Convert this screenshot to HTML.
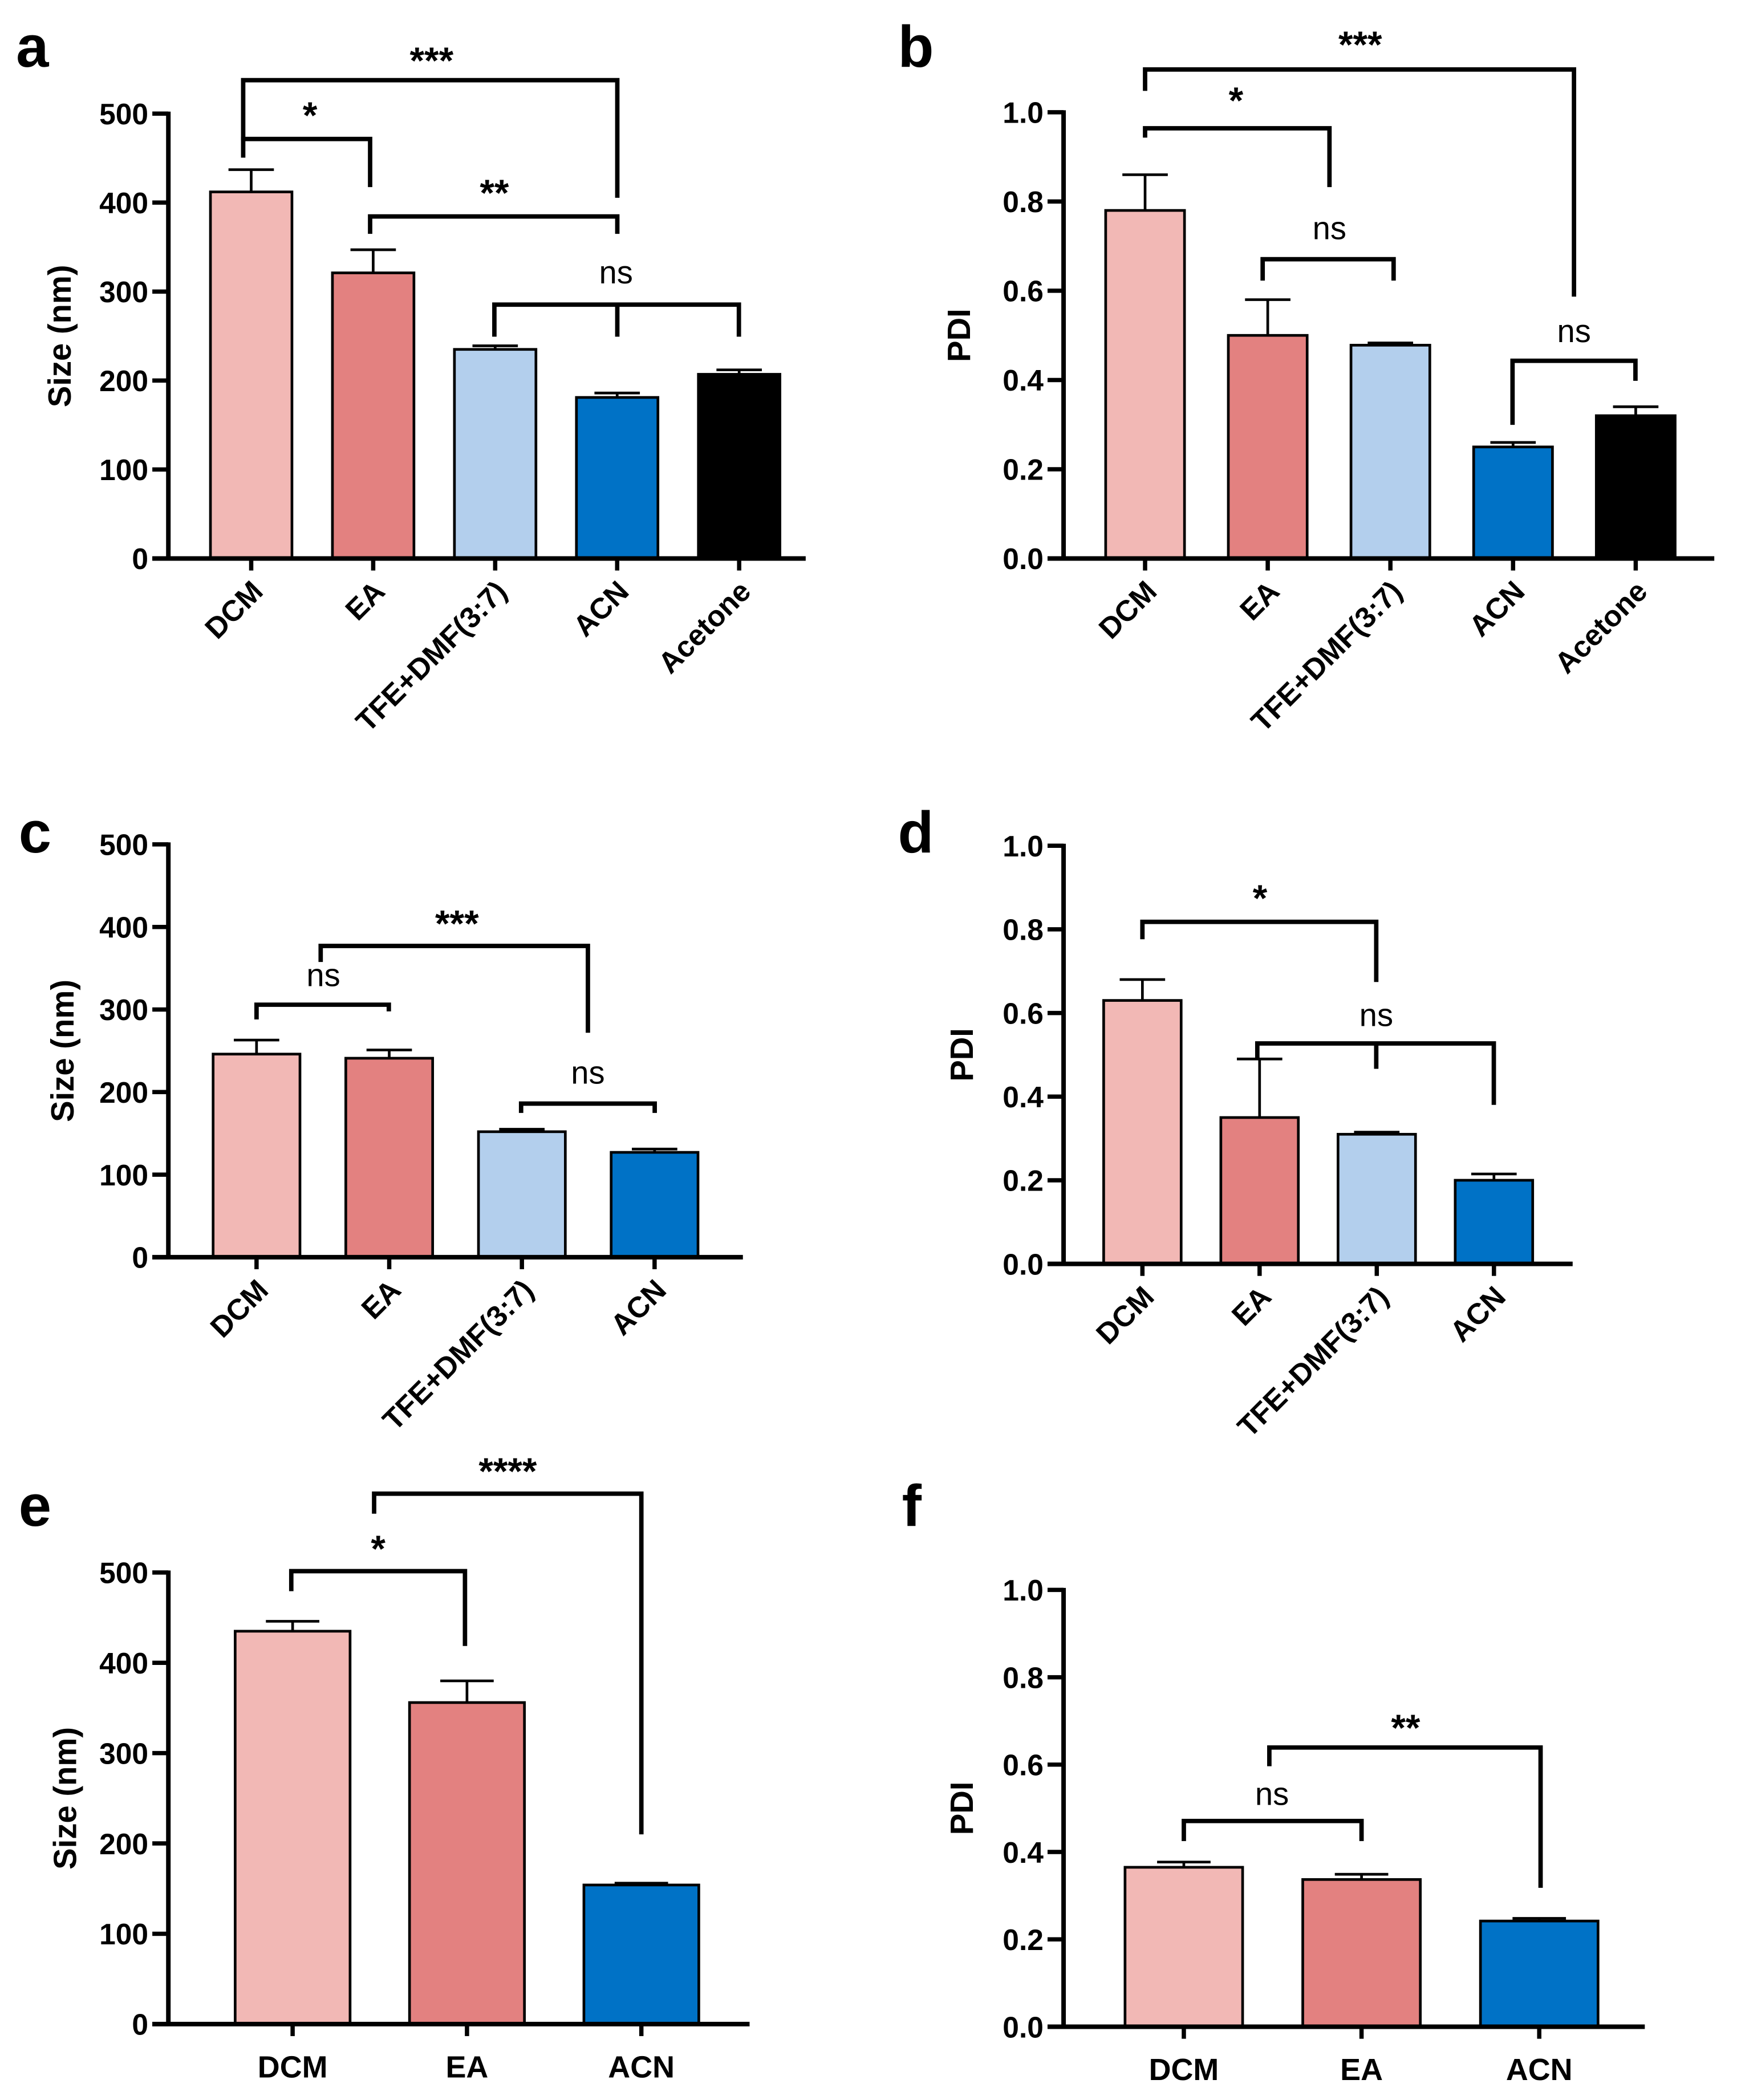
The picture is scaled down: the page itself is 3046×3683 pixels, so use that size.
<!DOCTYPE html>
<html><head><meta charset="utf-8"><style>
html,body{margin:0;padding:0;background:#fff}
svg{display:block}
text{font-family:"Liberation Sans",Arial,sans-serif;font-weight:bold;fill:#000}
text.ns{font-weight:normal}
</style></head><body>
<svg id="fig" xmlns="http://www.w3.org/2000/svg" width="3046" height="3683" viewBox="0 0 1300 1571.8"></svg>
<script>
// ---- data ----
const aCats=["DCM","EA","TFE+DMF(3:7)","ACN","Acetone"];
const aVals=[412,321,235,181,207];
const aErrs=[25,26,4,5,5];
const bCats=["DCM","EA","TFE+DMF(3:7)","ACN","Acetone"];
const bVals=[0.78,0.50,0.478,0.25,0.32];
const bErrs=[0.08,0.08,0.005,0.01,0.02];
const cCats=["DCM","EA","TFE+DMF(3:7)","ACN"];
const cVals=[246,241,152,127];
const cErrs=[17,10,3,4];
const dCats=["DCM","EA","TFE+DMF(3:7)","ACN"];
const dVals=[0.63,0.35,0.31,0.20];
const dErrs=[0.05,0.14,0.005,0.015];
const eCats=["DCM","EA","ACN"];
const eVals=[435,356,154];
const eErrs=[11,24,2];
const fCats=["DCM","EA","ACN"];
const fVals=[0.365,0.337,0.242];
const fErrs=[0.012,0.012,0.006];
const sizeTicks=[0,100,200,300,400,500];
const sizeTickLabels=["0","100","200","300","400","500"];
const pdiTicks=[0,0.2,0.4,0.6,0.8,1.0];
const pdiTickLabels=["0.0","0.2","0.4","0.6","0.8","1.0"];
const colorMap={"DCM":"#f2b8b5","EA":"#e38180","TFE+DMF(3:7)":"#b3cfed","ACN":"#0072c6","Acetone":"#000000"};

const NS="http://www.w3.org/2000/svg";
const svg=document.getElementById('fig');
function el(tag,attrs,parent){
  const e=document.createElementNS(NS,tag);
  for(const k in attrs)e.setAttribute(k,attrs[k]);
  (parent||svg).appendChild(e);return e;
}

function panel(p){
  const g=el('g',{});
  
  
  const ys=v=>p.y0-(v-p.vmin)/(p.vmax-p.vmin)*(p.y0-p.y1);
  const xs=i=>p.xStart+p.step*i;
  const L=el('text',{x:p.lx,y:p.ly,'font-size':44},g);L.textContent=p.letter;
  
  
  p.cats.forEach((c,i)=>{
    const cx=xs(i),top=ys(p.vals[i]),et=ys(p.vals[i]+p.errs[i]);
    const el1=el('line',{x1:cx,x2:cx,y1:top,y2:et,stroke:'#000','stroke-width':2},g);
    
    
    const cap=el('line',{x1:cx-p.cap,x2:cx+p.cap,y1:et,y2:et,stroke:'#000','stroke-width':2},g);
    
    
    const r=el('rect',{x:cx-p.bw/2,y:top,width:p.bw,height:p.y0-top,fill:colorMap[c],stroke:'#000','stroke-width':2},g);
    
    
    el('line',{x1:cx,x2:cx,y1:p.y0,y2:p.y0+9,stroke:'#000','stroke-width':3.2},g);
    const t=el('text',{'font-size':p.horiz?23:22},g);
    if(p.horiz){t.setAttribute('x',cx);t.setAttribute('y',p.y0+40);t.setAttribute('text-anchor','middle');}
    else{t.setAttribute('text-anchor','end');t.setAttribute('transform','translate('+(cx+10)+','+(p.y0+26)+') rotate(-45)');}
    t.textContent=c;
    
    
  });
  const ya=el('line',{x1:p.ax,x2:p.ax,y1:p.y1-1.5,y2:p.y0+1.5,stroke:'#000','stroke-width':3.4},g);
  
  
  const xa=el('line',{x1:p.ax-12,x2:p.axEnd,y1:p.y0,y2:p.y0,stroke:'#000','stroke-width':3.4},g);
  
  
  p.ticks.forEach((v,i)=>{
    const y=ys(v);
    el('line',{x1:p.ax-12,x2:p.ax,y1:y,y2:y,stroke:'#000','stroke-width':3.2},g);
    const t=el('text',{x:p.ax-15,y:y+8,'font-size':22,'text-anchor':'end'},g);t.textContent=p.tickLabels[i];
    
    
  });
  const yt=el('text',{'font-size':24,'text-anchor':'middle',transform:'translate('+p.ytx+','+((p.y0+p.y1)/2)+') rotate(-90)'},g);
  yt.textContent=p.ytitle;
  
  
  p.br.forEach(b=>{
    let d='M'+b[0]+','+b[1]+'V'+b[2]+'H'+b[3]+'V'+b[4];
    if(b[8])d+='M'+b[8]+','+b[2]+'V'+b[9];
    const pa=el('path',{d:d,fill:'none',stroke:'#000','stroke-width':3.3},g);
    
    
    const t=el('text',{x:b[6],y:b[7],'font-size':b[5]=='ns'?24:28,'text-anchor':'middle'},g);
    if(b[5]=='ns')t.setAttribute('class','ns');
    t.textContent=b[5];
    
    
  });
}

panel({letter:'a',lx:12,ly:50,cats:aCats,vals:aVals,errs:aErrs,vmin:0,vmax:500,y0:418,y1:85,ax:126,axEnd:603,xStart:188,step:91.3,bw:61,cap:17,ticks:sizeTicks,tickLabels:sizeTickLabels,ytitle:'Size (nm)',ytx:53,
 br:[[182,105,60,462,148,'***',323,55],[182,118,104,277,140,'*',232,96],[277,175,162,462,175,'**',370,154],[370,252,228,553,252,'ns',461,212,462,252]]});
panel({letter:'b',lx:672,ly:50,cats:bCats,vals:bVals,errs:bErrs,vmin:0,vmax:1,y0:418,y1:84,ax:796,axEnd:1283,xStart:857,step:91.8,bw:59,cap:17,ticks:pdiTicks,tickLabels:pdiTickLabels,ytitle:'PDI',ytx:726,
 br:[[857,68,52,1178,222,'***',1018,43],[857,103,96,995,140,'*',925,85],[945,210,194,1043,210,'ns',995,179],[1132,318,270,1224,285,'ns',1178,256]]});
panel({letter:'c',lx:14,ly:638,cats:cCats,vals:cVals,errs:cErrs,vmin:0,vmax:500,y0:941,y1:632,ax:126,axEnd:556,xStart:192,step:99.3,bw:65,cap:17,ticks:sizeTicks,tickLabels:sizeTickLabels,ytitle:'Size (nm)',ytx:55,
 br:[[192,763,752,291,757,'ns',242,738],[240,720,708,440,773,'***',342,701],[390,833,826,490,833,'ns',440,811]]});
panel({letter:'d',lx:672,ly:638,cats:dCats,vals:dVals,errs:dErrs,vmin:0,vmax:1,y0:946,y1:633,ax:796,axEnd:1177,xStart:855,step:87.7,bw:58,cap:17,ticks:pdiTicks,tickLabels:pdiTickLabels,ytitle:'PDI',ytx:728,
 br:[[855,703,690,1030,735,'*',943,682],[941,793,781,1118,827,'ns',1030,768,1030,800]]});
panel({letter:'e',lx:14,ly:1142,cats:eCats,vals:eVals,errs:eErrs,vmin:0,vmax:500,y0:1515,y1:1177,ax:126,axEnd:561,xStart:219,step:130.5,bw:86,cap:20,horiz:true,ticks:sizeTicks,tickLabels:sizeTickLabels,ytitle:'Size (nm)',ytx:57,
 br:[[218,1191,1176,348,1232,'*',283,1169],[280,1133,1118,480,1373,'****',380,1111]]});
panel({letter:'f',lx:675,ly:1142,cats:fCats,vals:fVals,errs:fErrs,vmin:0,vmax:1,y0:1517,y1:1190,ax:796,axEnd:1231,xStart:886,step:133,bw:88,cap:20,horiz:true,ticks:pdiTicks,tickLabels:pdiTickLabels,ytitle:'PDI',ytx:728,
 br:[[886,1378,1363,1019,1378,'ns',952,1351],[950,1322,1308,1153,1413,'**',1052,1303]]});
</script>
</body></html>
